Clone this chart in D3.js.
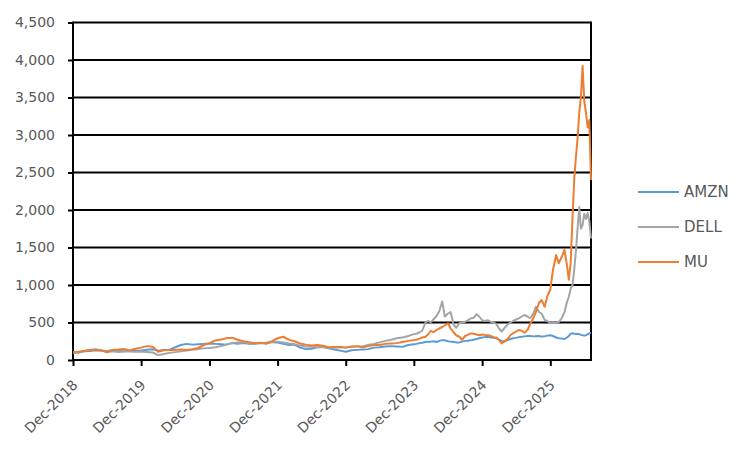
<!DOCTYPE html>
<html lang="en">

<head>
  <meta charset="utf-8">
  <title>AMZN / DELL / MU</title>
  <script src="https://d3js.org/d3.v7.min.js"></script>
  <style>
    body {
      margin: 0;
      background: #fff;
    }
    .tick text, .legend text {
      font-family: 'DejaVu Sans', sans-serif;
      fill: #595959;
    }
    .tick text {
      font-size: 14px;
    }
    .legend text {
      font-size: 15px;
    }
  </style>
</head>

<body>
  <div id="chart"></div>
  <script>
    // sampled dates: monthly, then twice a month, then ~9 days near the end
    var dates = [
      '2018-12-01', '2019-01-01', '2019-02-01', '2019-03-01', '2019-04-01', '2019-05-01', '2019-06-01',
      '2019-07-01', '2019-08-01', '2019-09-01', '2019-10-01', '2019-11-01', '2019-12-01',
      '2020-01-01', '2020-02-01', '2020-03-01', '2020-04-01', '2020-05-01', '2020-06-01',
      '2020-07-01', '2020-08-01', '2020-09-01', '2020-10-01', '2020-11-01', '2020-12-01',
      '2021-01-01', '2021-02-01', '2021-03-01', '2021-04-01', '2021-05-01', '2021-06-01',
      '2021-07-01', '2021-08-01', '2021-09-01', '2021-10-01', '2021-11-01', '2021-12-01',
      '2022-01-01', '2022-02-01', '2022-03-01', '2022-04-01', '2022-05-01', '2022-06-01',
      '2022-07-01', '2022-08-01', '2022-09-01', '2022-10-01', '2022-11-01', '2022-12-01',
      '2023-01-01', '2023-02-01', '2023-03-01', '2023-04-01', '2023-05-01', '2023-06-01',
      '2023-07-01', '2023-08-01', '2023-09-01', '2023-10-01', '2023-11-01',
      '2023-12-01', '2023-12-15',
      '2024-01-01', '2024-01-15', '2024-02-01', '2024-02-15', '2024-03-01', '2024-03-15',
      '2024-04-01', '2024-04-15', '2024-05-01', '2024-05-15', '2024-06-01', '2024-06-15',
      '2024-07-01', '2024-07-15', '2024-08-01', '2024-08-15', '2024-09-01', '2024-09-15',
      '2024-10-01', '2024-10-15', '2024-11-01', '2024-11-15', '2024-12-01', '2024-12-15',
      '2025-01-01', '2025-01-15', '2025-02-01', '2025-02-15', '2025-03-01', '2025-03-15',
      '2025-04-01', '2025-04-15', '2025-05-01', '2025-05-15', '2025-06-01', '2025-06-15',
      '2025-07-01', '2025-07-15', '2025-08-01', '2025-08-15', '2025-09-01', '2025-09-15',
      '2025-10-01', '2025-10-15', '2025-11-01', '2025-11-15', '2025-12-01', '2025-12-15',
      '2026-01-01', '2026-01-15', '2026-02-01', '2026-02-15',
      '2026-03-01', '2026-03-10', '2026-03-20', '2026-03-30', '2026-04-08', '2026-04-17',
      '2026-04-26', '2026-05-05', '2026-05-14', '2026-05-23', '2026-06-01', '2026-06-10',
      '2026-06-19', '2026-06-28', '2026-07-07'
    ];

    var amzn = [
      100, 105, 115, 120, 130, 125, 120,
      130, 124, 118, 125, 122, 128,
      138, 142, 125, 135, 138, 170,
      200, 215, 205, 210, 215, 220,
      215, 210, 205, 225, 215, 225,
      218, 215, 225, 220, 238, 232,
      215, 200, 205, 165, 145, 150,
      170, 175, 155, 140, 125, 110,
      130, 135, 140, 145, 165, 170,
      180, 185, 180, 175, 200,
      210, 215,
      225, 230, 240, 245, 245, 250,
      240, 255, 265, 262, 250, 245,
      240, 235, 235, 245, 255, 258,
      262, 270, 280, 290, 300, 305,
      310, 300, 295, 290, 270, 255,
      250, 265, 280, 290, 295, 305,
      310, 315, 320, 320, 315, 318,
      320, 312, 315, 325, 330, 320,
      300, 290, 285, 280,
      300, 320, 350, 355, 350, 345,
      350, 345, 335, 330, 325, 330,
      345, 355, 365
    ];

    var dell = [
      100, 95, 120, 135, 142, 130, 108,
      118, 108, 114, 113, 110, 114,
      108, 100, 65, 80, 95, 105,
      115, 125, 135, 145, 155, 160,
      170, 185, 205, 225, 235, 235,
      225, 220, 225, 230, 240, 245,
      235, 220, 212, 192, 180, 175,
      170, 170, 160, 162, 170, 165,
      175, 180, 180, 200, 215, 235,
      255, 270, 290, 300, 320,
      345, 350,
      370, 390, 500, 520, 505, 540,
      590, 650, 780, 580, 620, 640,
      470, 430, 490, 500, 510, 530,
      556, 560, 610, 580, 530, 520,
      530, 510, 500, 480, 420, 380,
      430, 470, 500, 520, 540, 556,
      580, 600, 580, 556, 620, 711,
      640, 620, 533, 520, 490, 500,
      495, 505, 560, 640,
      780, 840, 950, 1000, 1200, 1450,
      1750, 2040, 1750, 1800, 1950, 1880,
      1960, 1850, 1620
    ];

    var mu = [
      100, 110, 125, 130, 135, 128, 102,
      135, 140, 148, 128, 150, 165,
      185, 178, 110, 130, 135, 135,
      140, 135, 145, 160, 200, 225,
      260, 272, 290, 298, 270, 250,
      238, 225, 230, 220, 252, 290,
      310, 268, 250, 220, 205, 195,
      200, 190, 170, 172, 175, 165,
      180, 185, 170, 185, 200, 200,
      215, 220, 225, 240, 255,
      265, 270,
      285, 300, 310, 340, 390, 370,
      400, 420, 440, 460, 490, 420,
      370, 330, 310, 270, 320, 335,
      355, 350, 340, 330, 340, 335,
      330, 320, 305, 300, 270, 222,
      250, 276, 330, 356, 380, 400,
      390, 364, 400, 480, 560, 640,
      760, 800, 710, 850, 940, 1200,
      1400, 1290, 1380, 1470,
      1250, 1070, 1290, 1900, 2400, 2700,
      2950, 3300, 3500, 3920, 3450, 3300,
      3100, 3200, 2400
    ];

    var seriesNames = ['AMZN', 'DELL', 'MU'];
    var seriesColors = ['#5B9BD5', '#A5A5A5', '#ED7D31'];
    var yTicks = [0, 500, 1000, 1500, 2000, 2500, 3000, 3500, 4000, 4500];
    var xTicks = ['2018-12-01', '2019-12-01', '2020-12-01', '2021-12-01',
      '2022-12-01', '2023-12-01', '2024-12-01', '2025-12-01'];

    var w = 752, h = 454;
    var plotL = 73, plotR = 591, plotT = 22.5, plotB = 360;
    var parse = d3.timeParse('%Y-%m-%d');

    var svg = d3.select('#chart').append('svg')
      .attr('width', w)
      .attr('height', h);

    var x = d3.scaleTime()
      .domain([parse(dates[0]), parse(dates[dates.length - 1])])
      .range([plotL, plotR]);
    var y = d3.scaleLinear()
      .domain([0, 4500])
      .range([plotB, plotT]);

    // horizontal gridlines
    svg.selectAll('line.grid')
      .data(yTicks)
      .enter().append('line')
      .attr('class', 'grid')
      .attr('x1', plotL)
      .attr('x2', plotR)
      .attr('y1', function (d) { return y(d); })
      .attr('y2', function (d) { return y(d); })
      .attr('stroke', '#000')
      .attr('stroke-width', 2);

    // right border
    svg.append('line')
      .attr('x1', plotR).attr('x2', plotR)
      .attr('y1', plotT - 1).attr('y2', plotB + 1)
      .attr('stroke', '#000')
      .attr('stroke-width', 2);

    var yAxis = svg.append('g')
      .attr('transform', 'translate(' + plotL + ',0)')
      .call(d3.axisLeft(y).tickValues(yTicks).tickSize(5).tickPadding(13)
        .tickFormat(d3.format(',')));
    yAxis.select('.domain').attr('stroke', '#000').attr('stroke-width', 2)
      .attr('d', 'M0,' + (plotB + 1) + 'V' + (plotT - 1));
    yAxis.selectAll('.tick line').attr('stroke', '#000').attr('stroke-width', 2);

    var xAxis = svg.append('g')
      .attr('transform', 'translate(0,' + plotB + ')')
      .call(d3.axisBottom(x).tickValues(xTicks.map(parse)).tickSize(6)
        .tickFormat(d3.timeFormat('%b-%Y')));
    xAxis.select('.domain').remove();
    xAxis.selectAll('.tick line').attr('stroke', '#000').attr('stroke-width', 2);
    xAxis.selectAll('.tick text')
      .attr('x', 0)
      .attr('y', 0)
      .attr('dy', null)
      .attr('text-anchor', 'end')
      .attr('transform', 'translate(5,26) rotate(-45)');

    // lines
    var line = d3.line()
      .x(function (d, i) { return x(parse(dates[i])); })
      .y(function (d) { return y(d); });

    var allSeries = [amzn, dell, mu];
    svg.selectAll('path.series')
      .data(allSeries)
      .enter().append('path')
      .attr('class', 'series')
      .attr('d', line)
      .attr('fill', 'none')
      .attr('stroke', function (d, i) { return seriesColors[i]; })
      .attr('stroke-width', 2)
      .attr('stroke-linejoin', 'round');

    // legend
    var legend = svg.selectAll('g.legend')
      .data(seriesNames)
      .enter().append('g')
      .attr('class', 'legend')
      .attr('transform', function (d, i) { return 'translate(638,' + (192 + i * 35) + ')'; });
    legend.append('line')
      .attr('x1', 0).attr('x2', 41)
      .attr('stroke', function (d, i) { return seriesColors[i]; })
      .attr('stroke-width', 2);
    legend.append('text')
      .attr('x', 46)
      .attr('dy', '0.36em')
      .text(function (d) { return d; });
  </script>
</body>

</html>
